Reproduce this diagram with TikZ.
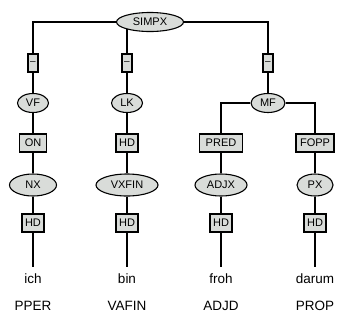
\documentclass[tikz,border=0pt]{standalone}
\usepackage{fontspec}
\setmainfont{Liberation Sans}
\usetikzlibrary{shapes.geometric, positioning, backgrounds}
\definecolor{catgray}{RGB}{217,220,217}

\begin{document}
\begin{tikzpicture}[x=1pt, y=-1pt,
  cat/.style={draw, ellipse, fill=catgray, line width=1.1pt, inner sep=0pt, minimum width=#1, minimum height=19pt, font=\fontsize{11}{13}\selectfont},
  lab/.style={draw, rectangle, fill=catgray, line width=1.1pt, inner sep=0pt, minimum width=#1, minimum height=18pt, font=\fontsize{11}{13}\selectfont},
  dashbox/.style={draw, rectangle, fill=catgray, line width=1.1pt, inner sep=0pt, minimum width=10pt, minimum height=18pt, font=\fontsize{10}{12}\selectfont},
  word/.style={inner xsep=2pt, inner ysep=7pt, font=\fontsize{13.5}{16}\selectfont},
  tagword/.style={inner sep=2pt, font=\fontsize{13.5}{16}\selectfont},
  conn/.style={line width=1.3pt}
]
\useasboundingbox (0,0) rectangle (339,322);

\node[cat=67] (simpx) at (150,22) {SIMPX};

\node[dashbox] (d1) at (33,63) {--};
\node[dashbox] (d2) at (127,63) {--};
\node[dashbox] (d3) at (268,63) {--};

\node[cat=31] (vf) at (33,103) {VF};
\node[cat=31] (lk) at (127,103) {LK};
\node[cat=34] (mf) at (268,103) {MF};

\node[lab=27] (on) at (33,143) {ON};
\node[lab=22] (hdlk) at (127,143) {HD};
\node[lab=43] (pred) at (221,143) {PRED};
\node[lab=38] (fopp) at (315,143) {FOPP};

\node[cat=47, minimum height=22pt] (nx) at (33,185) {NX};
\node[cat=62, minimum height=22pt] (vxfin) at (127,185) {VXFIN};
\node[cat=52, minimum height=22pt] (adjx) at (221,185) {ADJX};
\node[cat=36, minimum height=22pt] (px) at (315,185) {PX};

\node[lab=22] (hd1) at (33,223) {HD};
\node[lab=22] (hd2) at (127,223) {HD};
\node[lab=22] (hd3) at (221,223) {HD};
\node[lab=22] (hd4) at (315,223) {HD};

\node[word] (ich) at (33,279) {ich};
\node[word] (bin) at (127,279) {bin};
\node[word] (froh) at (221,279) {froh};
\node[word] (darum) at (315,279) {darum};

\node[tagword] (pper) at (33,306) {PPER};
\node[tagword] (vafin) at (127,306) {VAFIN};
\node[tagword] (adjd) at (221,306) {ADJD};
\node[tagword] (prop) at (315,306) {PROP};

\begin{scope}[on background layer]
\draw[conn] (simpx) -| (d1);
\draw[conn] (d2) -- (d2 |- simpx.center);
\draw[conn] (simpx) -| (d3);
\draw[conn] (d1) -- (vf) -- (on) -- (nx) -- (hd1) -- (ich);
\draw[conn] (d2) -- (lk) -- (hdlk) -- (vxfin) -- (hd2) -- (bin);
\draw[conn] (d3) -- (mf);
\draw[conn] (mf) -| (pred);
\draw[conn] (mf) -| (fopp);
\draw[conn] (pred) -- (adjx) -- (hd3) -- (froh);
\draw[conn] (fopp) -- (px) -- (hd4) -- (darum);
\end{scope}

\end{tikzpicture}
\end{document}
